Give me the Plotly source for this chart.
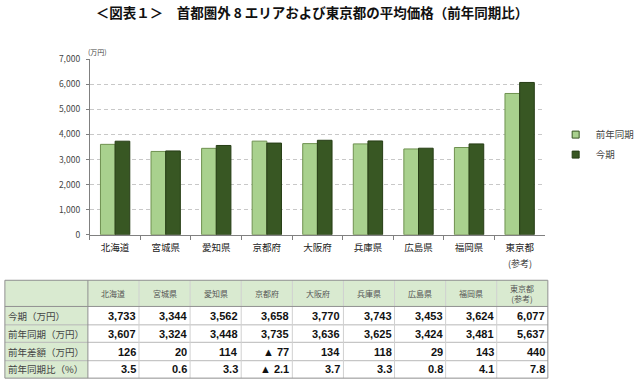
import plotly.graph_objects as go

categories = ["北海道", "宮城県", "愛知県", "京都府", "大阪府", "兵庫県", "広島県", "福岡県", "東京都"]
prev_values = [3607, 3324, 3448, 3735, 3636, 3625, 3424, 3481, 5637]
curr_values = [3733, 3344, 3562, 3658, 3770, 3743, 3453, 3624, 6077]
diff_labels = ["126", "20", "114", "▲ 77", "134", "118", "29", "143", "440"]
ratio_labels = ["3.5", "0.6", "3.3", "▲ 2.1", "3.7", "3.3", "0.8", "4.1", "7.8"]
header_labels = ["北海道", "宮城県", "愛知県", "京都府", "大阪府", "兵庫県", "広島県", "福岡県", "東京都<br>(参考)"]
row_labels = ["今期（万円）", "前年同期（万円）", "前年差額（万円）", "前年同期比（%）"]
y_ticks = [0, 1000, 2000, 3000, 4000, 5000, 6000, 7000]

FONT = "Noto Sans CJK JP"
NUMFONT = "Liberation Sans"
LIGHT = "#A9D18E"
DARK = "#385723"
HEAD = "#D9EAD0"

W, H = 640, 388
def px_x(p): return p / W
def px_y(p): return 1 - p / H

fig = go.Figure()
fig.add_trace(go.Bar(name="前年同期", x=categories, y=prev_values, showlegend=False,
                     marker=dict(color=LIGHT, line=dict(color="#6F9150", width=1))))
fig.add_trace(go.Bar(name="今期", x=categories, y=curr_values, showlegend=False,
                     marker=dict(color=DARK, line=dict(color="#263D15", width=1))))
# legend entries with small square symbols
fig.add_trace(go.Scatter(name="前年同期", x=[None], y=[None], mode="markers", legendgroup="a",
                         marker=dict(symbol="square", size=7, color=LIGHT,
                                     line=dict(color="#385723", width=1))))
fig.add_trace(go.Scatter(name="今期", x=[None], y=[None], mode="markers", legendgroup="b",
                         marker=dict(symbol="square", size=7, color=DARK,
                                     line=dict(color="#263D15", width=1))))

# ---- table drawn with shapes + annotations ----
col_edges = [5, 90] + [90 + (561 - 90) / 9 * (i + 1) for i in range(9)]
row_edges = [282, 309, 328, 346, 365, 383]
shapes = []
annotations = []
shapes.append(dict(type="rect", xref="paper", yref="paper", x0=px_x(5), x1=px_x(561),
                   y0=px_y(309), y1=px_y(282), fillcolor=HEAD, line=dict(width=0), layer="below"))
shapes.append(dict(type="rect", xref="paper", yref="paper", x0=px_x(5), x1=px_x(90),
                   y0=px_y(383), y1=px_y(309), fillcolor=HEAD, line=dict(width=0), layer="below"))
for r in row_edges[2:-1]:
    shapes.append(dict(type="line", xref="paper", yref="paper", x0=px_x(5), x1=px_x(561),
                       y0=px_y(r), y1=px_y(r), line=dict(color="#B8B8B8", width=1)))
for c in col_edges[2:-1]:
    shapes.append(dict(type="line", xref="paper", yref="paper", x0=px_x(c), x1=px_x(c),
                       y0=px_y(383), y1=px_y(282), line=dict(color="#D0D0D0", width=1)))
shapes.append(dict(type="line", xref="paper", yref="paper", x0=px_x(5), x1=px_x(561),
                   y0=px_y(309), y1=px_y(309), line=dict(color="#909090", width=1)))
shapes.append(dict(type="line", xref="paper", yref="paper", x0=px_x(90), x1=px_x(90),
                   y0=px_y(383), y1=px_y(282), line=dict(color="#909090", width=1)))
shapes.append(dict(type="rect", xref="paper", yref="paper", x0=px_x(5), x1=px_x(561),
                   y0=px_y(383), y1=px_y(282), line=dict(color="#909090", width=1)))

for i, lab in enumerate(header_labels):
    cx = (col_edges[i + 1] + col_edges[i + 2]) / 2
    annotations.append(dict(text=lab, x=px_x(cx), y=px_y(295.5), xref="paper", yref="paper",
                            showarrow=False, xanchor="center", yanchor="middle",
                            font=dict(family=FONT, size=8, color="#555555")))
for j, lab in enumerate(row_labels):
    cy = (row_edges[j + 1] + row_edges[j + 2]) / 2
    annotations.append(dict(text=lab, x=px_x(6), y=px_y(cy), xref="paper", yref="paper",
                            showarrow=False, xanchor="left", yanchor="middle",
                            font=dict(family=FONT, size=9.5, color="#444444")))
fmt = lambda v: f"{v:,}"
for i in range(len(categories)):
    vals = [fmt(curr_values[i]), fmt(prev_values[i]), diff_labels[i], ratio_labels[i]]
    for j, v in enumerate(vals):
        cy = (row_edges[j + 1] + row_edges[j + 2]) / 2
        annotations.append(dict(text=f"<b>{v}</b>", x=px_x(col_edges[i + 2] - 1), y=px_y(cy),
                                xref="paper", yref="paper", showarrow=False,
                                xanchor="right", yanchor="middle",
                                font=dict(family=NUMFONT, size=11, color="#111111")))

annotations.append(dict(text="(参考)", x="東京都", y=px_y(265), xref="x", yref="paper",
                        yanchor="middle", xanchor="center",
                        showarrow=False, font=dict(family=FONT, size=9, color="#333333")))
annotations.append(dict(text="(万円)", x=px_x(88), y=px_y(46), xref="paper", yref="paper",
                        xanchor="left", yanchor="middle", showarrow=False,
                        font=dict(family=FONT, size=7, color="#444444")))

fig.update_layout(
    width=W, height=H,
    margin=dict(l=0, r=0, t=0, b=0),
    paper_bgcolor="white", plot_bgcolor="white",
    barmode="group", bargap=0.42, bargroupgap=0,
    title=dict(text="<b>＜図表１＞　首都圏外 8 エリアおよび東京都の平均価格（前年同期比）</b>",
               x=px_x(312), xanchor="center", y=px_y(13), yanchor="middle",
               font=dict(family=FONT, size=13.5, color="#111111")),
    font=dict(family=FONT),
    shapes=shapes, annotations=annotations,
    xaxis=dict(domain=[px_x(92), px_x(558)], showline=True, linecolor="#808080", linewidth=1,
               ticks="outside", tickson="boundaries", ticklen=4, tickcolor="#808080",
               ticklabelstandoff=4,
               tickfont=dict(family=FONT, size=9.5, color="#222222")),
    yaxis=dict(domain=[px_y(235), px_y(54)], range=[0, 7000], tickvals=y_ticks,
               tickformat=",", showline=True, linecolor="#808080", linewidth=1,
               ticks="outside", ticklen=3, tickcolor="#808080", ticklabelstandoff=4,
               showgrid=True, gridcolor="#C8C8C8", griddash="4px,3px", zeroline=False,
               tickfont=dict(family=FONT, size=8.5, color="#444444")),
    legend=dict(x=px_x(569), y=px_y(142), yanchor="middle", xanchor="left",
                font=dict(family=FONT, size=9.5, color="#444444"), itemwidth=30,
                traceorder="grouped", tracegroupgap=1,
                bgcolor="rgba(0,0,0,0)"),
)

fig.write_html("out.html", config={"displayModeBar": False},
               post_script="document.body.style.margin='0px';")
